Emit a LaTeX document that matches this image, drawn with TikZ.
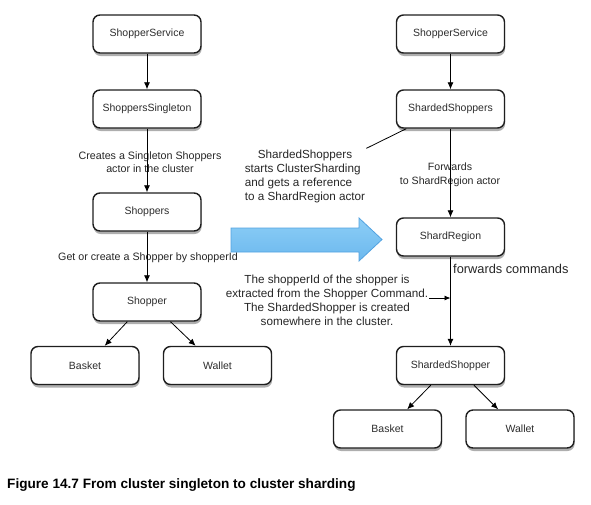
\documentclass[tikz,border=0pt]{standalone}
\usepackage{fontspec}
\setmainfont{Liberation Sans}
\usetikzlibrary{arrows.meta,positioning,shadows}
\definecolor{boxline}{RGB}{30,30,30}
\definecolor{boxtext}{RGB}{45,45,45}
\definecolor{arrowtop}{RGB}{140,206,246}
\definecolor{arrowbot}{RGB}{108,184,238}
\definecolor{arrowline}{RGB}{82,162,224}
\tikzset{
  actor/.style={draw=boxline, line width=1.4pt, rounded corners=7pt, fill=white,
    minimum width=108pt, minimum height=38pt, font=\fontsize{10.5}{13}\selectfont, text=boxtext,
    drop shadow={shadow xshift=0.6pt, shadow yshift=-3pt, fill=black!70, opacity=0.45}},
  note/.style={font=\fontsize{10.7}{13}\selectfont, text=black!85, inner sep=1pt, align=center},
  bignote/.style={font=\fontsize{11.7}{14}\selectfont, text=black!85, inner sep=1pt},
  flow/.style={-{Latex[length=7pt,width=6pt]}, line width=0.8pt}
}

\begin{document}
\begin{tikzpicture}[x=1pt, y=-1pt]
  \useasboundingbox (0,0) rectangle (591,504);
  \node[actor] (lservice) at (147,34) {ShopperService};
  \node[actor] (lsingleton) at (147,109) {ShoppersSingleton};
  \node[actor] (lshoppers) at (147,212) {Shoppers};
  \node[actor] (lshopper) at (147,302) {Shopper};
  \node[actor] (lbasket) at (85,365.5) {Basket};
  \node[actor] (lwallet) at (217.5,365.5) {Wallet};
  \node[actor] (rservice) at (450.5,34) {ShopperService};
  \node[actor] (rsharded) at (450.5,109) {ShardedShoppers};
  \node[actor] (rregion) at (450.5,237) {ShardRegion};
  \node[actor] (rshopper) at (450.5,365.5) {ShardedShopper};
  \node[actor] (rbasket) at (387.5,429) {Basket};
  \node[actor] (rwallet) at (520,429) {Wallet};
  \node[note] (createnote) at (150,162) {Creates a Singleton Shoppers\\actor in the cluster};
  \node[note] (getnote) at (148,258) {Get or create a Shopper by shopperId};
  \node[bignote, align=left] (startnote) at (305,176)
    {\hspace*{13pt}ShardedShoppers\\starts ClusterSharding\\and gets a reference\\to a ShardRegion actor};
  \node[note, font=\fontsize{10.6}{14}\selectfont] (fwdnote) at (450,175) {Forwards\\to ShardRegion actor};
  \node[bignote, align=center] (cmdnote) at (327,300)
    {The shopperId of the shopper is\\extracted from the Shopper Command.\\The ShardedShopper is created\\somewhere in the cluster.};
  \node[note, font=\fontsize{12.8}{15}\selectfont, anchor=west] (fwdcmd) at (452,269) {forwards commands};
  \node[anchor=west, inner sep=0pt, font=\fontsize{13.6}{16}\selectfont\bfseries] (caption) at (7,485)
    {Figure 14.7 From cluster singleton to cluster sharding};
  \draw[arrowline, line width=0.8pt, top color=arrowtop, bottom color=arrowbot]
    (231,228) -- (359,228) -- (359,218) -- (382,239.5) -- (359,261) -- (359,252) -- (231,252) -- cycle;
  \draw[flow] (lservice.south) -- (lsingleton.north);
  \draw[flow] (lsingleton.south) -- (lshoppers.north);
  \draw[flow] (lshoppers.south) -- (lshopper.north);
  \draw[flow] (lshopper.225) -- (lbasket.45);
  \draw[flow] (lshopper.-40) -- (lwallet.138);
  \draw[flow] (rservice.south) -- (rsharded.north);
  \draw[flow] (rsharded.south) -- (rregion.north);
  \draw[flow] (rregion.south) -- (rshopper.north);
  \draw[flow] (rshopper.225) -- (rbasket.45);
  \draw[flow] (rshopper.-40) -- (rwallet.138);
  \draw[line width=0.8pt] (rsharded.204) -- (startnote.north east);
  \coordinate (cmdhit) at (450.5,298);
  \draw[-{Latex[length=6pt,width=5pt]}, line width=0.8pt] (cmdnote.east |- cmdhit) -- (cmdhit);
\end{tikzpicture}
\end{document}
